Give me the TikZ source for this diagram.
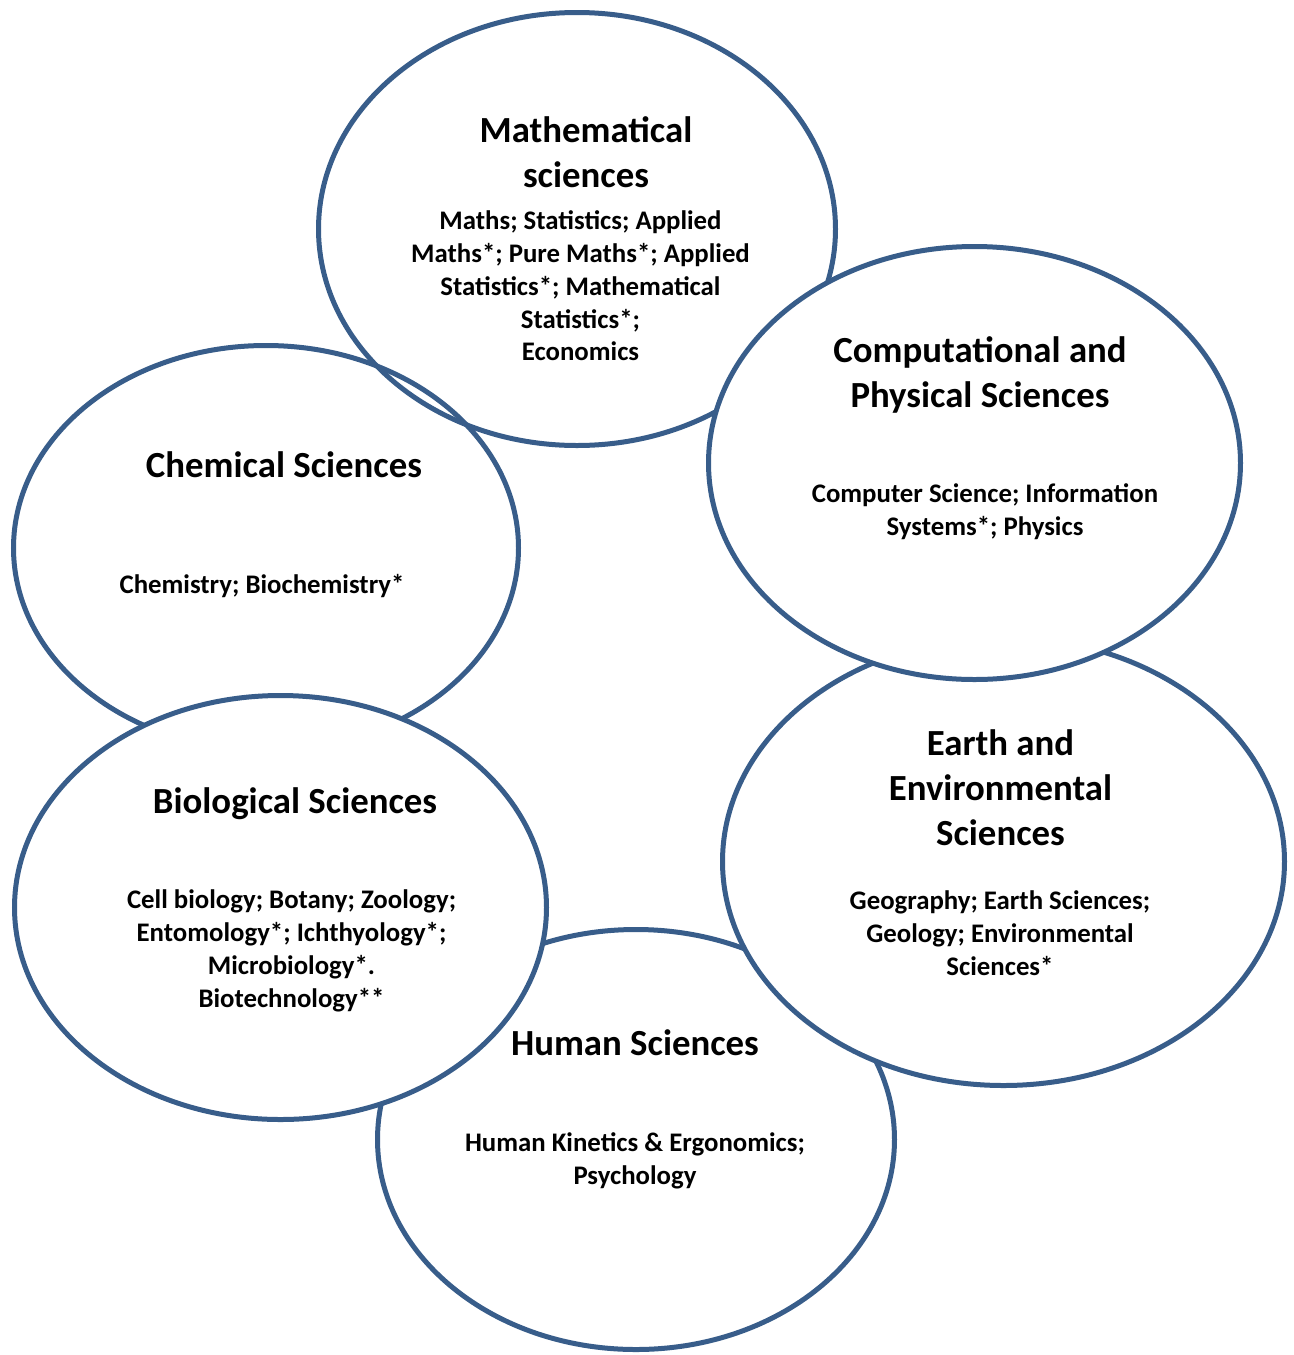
\documentclass[tikz,border=0pt]{standalone}
\usepackage{fontspec}
\setmainfont{Carlito}
\usepackage{xcolor}
\usepackage{tikz}
\usetikzlibrary{shapes.geometric}

\definecolor{ringblue}{RGB}{56,93,138}

\begin{document}
\begin{tikzpicture}[
    x=0.5pt, y=-0.5pt,
    field/.style={ellipse, draw=ringblue, line width=2.5pt, fill=white, inner sep=0pt},
    ring/.style={ellipse, draw=ringblue, line width=2.5pt, inner sep=0pt},
    head/.style={font=\bfseries\fontsize{18.4}{22.5}\selectfont, align=center},
    items/.style={font=\bfseries\fontsize{13.4}{16.4}\selectfont, align=center}
]
    \useasboundingbox (0,0) rectangle (1294,1355);

    \node[field, minimum width=258.5pt, minimum height=210pt] (human) at (636,1139.5) {};
    \node[head]  (humanhead)  at (635,1043) {Human Sciences};
    \node[items] (humanitems) at (635,1160.5) {Human Kinetics \& Ergonomics;\\Psychology};

    \node[field, minimum width=281pt, minimum height=224pt] (earth) at (1003.5,861.5) {};
    \node[head]  (earthhead)  at (1000.5,788) {Earth and\\Environmental\\Sciences};
    \node[items] (earthitems) at (1000,933) {Geography; Earth Sciences;\\Geology; Environmental\\Sciences*};

    \node[field, minimum width=258.5pt, minimum height=216.5pt] (math) at (577,229) {};
    \node[head]  (mathhead)  at (586,152.5) {Mathematical\\sciences};
    \node[items] (mathitems) at (580.5,286) {Maths; Statistics; Applied\\Maths*; Pure Maths*; Applied\\Statistics*; Mathematical\\Statistics*;\\Economics};

    \node[field, minimum width=266pt, minimum height=216.5pt] (comp) at (974.5,463) {};
    \node[head]  (comphead)  at (980,374.5) {Computational and\\Physical Sciences};
    \node[items] (compitems) at (985,512) {Computer Science; Information\\Systems*; Physics};

    \node[ring, minimum width=252.5pt, minimum height=202.5pt] (chem) at (266,548) {};
    \node[head]  (chemhead)  at (284,465) {Chemical Sciences};
    \node[items] (chemitems) at (262,586) {Chemistry; Biochemistry*};

    \node[field, minimum width=266pt, minimum height=212pt] (bio) at (280.5,907.5) {};
    \node[head]  (biohead)  at (295,804) {Biological Sciences};
    \node[items] (bioitems) at (291.5,951) {Cell biology; Botany; Zoology;\\Entomology*; Ichthyology*;\\Microbiology*.\\Biotechnology**};
\end{tikzpicture}
\end{document}
